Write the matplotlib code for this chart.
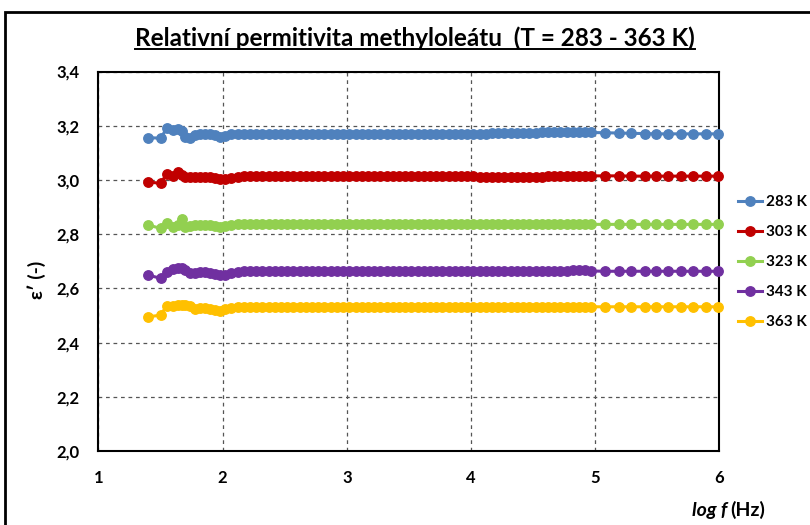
import matplotlib.pyplot as plt
from matplotlib.patches import Rectangle
from matplotlib.lines import Line2D

# log f (Hz)
log_f = [1.40, 1.50, 1.55, 1.60, 1.64, 1.67, 1.70, 1.74, 1.78, 1.82, 1.86, 1.90, 1.94, 1.98,
         2.02, 2.07, 2.12, 2.17, 2.22, 2.27, 2.32, 2.37, 2.42, 2.47,
         2.52, 2.57, 2.62, 2.67, 2.72, 2.77, 2.82, 2.87, 2.92, 2.97,
         3.02, 3.07, 3.12, 3.17, 3.22, 3.27, 3.32, 3.37, 3.42, 3.47,
         3.52, 3.57, 3.62, 3.67, 3.72, 3.77, 3.82, 3.87, 3.92, 3.97,
         4.02, 4.07, 4.12, 4.17, 4.22, 4.27, 4.32, 4.37, 4.42, 4.47,
         4.52, 4.57, 4.62, 4.67, 4.72, 4.77, 4.82, 4.87, 4.92, 4.97,
         5.08, 5.19, 5.29, 5.40, 5.49, 5.59, 5.69, 5.79, 5.89, 5.99]

eps_283 = [3.156, 3.154, 3.190, 3.184, 3.188, 3.180, 3.160, 3.154, 3.164, 3.168, 3.170, 3.170, 3.166, 3.160,
           3.162, 3.168, 3.170, 3.171, 3.171, 3.171, 3.171, 3.171, 3.171, 3.171,
           3.171, 3.171, 3.171, 3.171, 3.171, 3.171, 3.171, 3.171, 3.171, 3.171,
           3.171, 3.171, 3.171, 3.171, 3.171, 3.171, 3.171, 3.171, 3.171, 3.171,
           3.171, 3.171, 3.171, 3.171, 3.171, 3.171, 3.171, 3.171, 3.171, 3.171,
           3.171, 3.171, 3.171, 3.172, 3.172, 3.172, 3.173, 3.173, 3.174, 3.174,
           3.174, 3.175, 3.175, 3.175, 3.175, 3.176, 3.176, 3.176, 3.176, 3.175,
           3.174, 3.173, 3.172, 3.171, 3.170, 3.170, 3.170, 3.170, 3.170, 3.170]

eps_303 = [2.993, 2.987, 3.022, 3.015, 3.030, 3.020, 3.012, 3.012, 3.010, 3.012, 3.010, 3.010, 3.006, 3.002,
           3.002, 3.008, 3.012, 3.013, 3.014, 3.014, 3.014, 3.014, 3.014, 3.014,
           3.014, 3.014, 3.014, 3.014, 3.014, 3.014, 3.014, 3.015, 3.015, 3.015,
           3.015, 3.015, 3.015, 3.015, 3.015, 3.015, 3.015, 3.015, 3.015, 3.015,
           3.015, 3.015, 3.015, 3.015, 3.014, 3.014, 3.014, 3.014, 3.013, 3.013,
           3.013, 3.012, 3.012, 3.012, 3.012, 3.012, 3.012, 3.012, 3.012, 3.012,
           3.012, 3.012, 3.013, 3.013, 3.013, 3.014, 3.014, 3.015, 3.015, 3.015,
           3.015, 3.015, 3.014, 3.014, 3.014, 3.014, 3.014, 3.014, 3.014, 3.014]

eps_323 = [2.834, 2.821, 2.842, 2.827, 2.834, 2.855, 2.825, 2.830, 2.832, 2.834, 2.834, 2.832, 2.830, 2.828,
           2.830, 2.834, 2.836, 2.836, 2.836, 2.836, 2.836, 2.836, 2.836, 2.836,
           2.836, 2.836, 2.836, 2.836, 2.836, 2.836, 2.836, 2.836, 2.836, 2.836,
           2.836, 2.836, 2.836, 2.836, 2.836, 2.836, 2.836, 2.836, 2.836, 2.836,
           2.836, 2.836, 2.836, 2.836, 2.836, 2.836, 2.836, 2.836, 2.836, 2.836,
           2.836, 2.836, 2.836, 2.836, 2.836, 2.836, 2.836, 2.836, 2.836, 2.836,
           2.836, 2.836, 2.836, 2.836, 2.836, 2.836, 2.836, 2.836, 2.836, 2.836,
           2.836, 2.836, 2.836, 2.836, 2.836, 2.836, 2.836, 2.836, 2.836, 2.836]

eps_343 = [2.649, 2.637, 2.660, 2.670, 2.676, 2.674, 2.668, 2.658, 2.658, 2.662, 2.660, 2.656, 2.652, 2.648,
           2.650, 2.658, 2.662, 2.663, 2.663, 2.663, 2.663, 2.663, 2.663, 2.663,
           2.663, 2.663, 2.663, 2.663, 2.663, 2.663, 2.663, 2.663, 2.663, 2.663,
           2.663, 2.663, 2.663, 2.663, 2.663, 2.663, 2.663, 2.663, 2.663, 2.663,
           2.663, 2.663, 2.663, 2.663, 2.663, 2.663, 2.663, 2.663, 2.663, 2.663,
           2.663, 2.663, 2.663, 2.663, 2.663, 2.663, 2.663, 2.663, 2.663, 2.663,
           2.663, 2.663, 2.663, 2.663, 2.664, 2.665, 2.668, 2.669, 2.668, 2.664,
           2.663, 2.663, 2.663, 2.663, 2.663, 2.663, 2.663, 2.663, 2.663, 2.663]

eps_363 = [2.495, 2.501, 2.536, 2.536, 2.538, 2.538, 2.540, 2.534, 2.524, 2.526, 2.526, 2.524, 2.520, 2.518,
           2.522, 2.528, 2.531, 2.532, 2.532, 2.532, 2.532, 2.532, 2.532, 2.532,
           2.532, 2.532, 2.532, 2.532, 2.532, 2.532, 2.532, 2.532, 2.532, 2.532,
           2.532, 2.532, 2.532, 2.532, 2.532, 2.532, 2.532, 2.532, 2.532, 2.532,
           2.532, 2.532, 2.532, 2.532, 2.532, 2.532, 2.532, 2.532, 2.532, 2.532,
           2.532, 2.532, 2.532, 2.532, 2.532, 2.532, 2.532, 2.532, 2.532, 2.532,
           2.532, 2.532, 2.532, 2.532, 2.532, 2.532, 2.532, 2.532, 2.532, 2.532,
           2.532, 2.532, 2.532, 2.532, 2.532, 2.532, 2.532, 2.532, 2.532, 2.532]

series = [eps_283, eps_303, eps_323, eps_343, eps_363]
labels = ['283 K', '303 K', '323 K', '343 K', '363 K']
colors = ['#4F81BD', '#C00000', '#92D050', '#7030A0', '#FFC000']

x_ticks = [1, 2, 3, 4, 5, 6]
y_ticks = [2.0, 2.2, 2.4, 2.6, 2.8, 3.0, 3.2, 3.4]

plt.rcParams['font.family'] = ['Lato', 'DejaVu Sans']

fig = plt.figure(figsize=(8.1, 5.25), dpi=100)
ax = fig.add_axes([0.1216, 0.141, 0.7664, 0.7228])

for y, lab, c in zip(series, labels, colors):
    ax.plot(log_f, y, color=c, lw=2.2, marker='o', ms=6.8, label=lab,
            clip_on=False, zorder=3)

ax.set_xlim(1, 6)
ax.set_ylim(2.0, 3.4)
ax.set_xticks(x_ticks)
ax.set_yticks(y_ticks)
ax.set_xticklabels([str(t) for t in x_ticks])
ax.set_yticklabels([f'{t:.1f}'.replace('.', ',') for t in y_ticks])
ax.tick_params(length=0, labelsize=12, pad=14)
for lbl in ax.get_xticklabels() + ax.get_yticklabels():
    lbl.set_fontweight('bold')

ax.grid(True, color='#555555', ls=(0, (3, 3)), lw=0.9)
for s in ax.spines.values():
    s.set_linewidth(1.5)
    s.set_color('black')

# axis labels
fig.text(0.045, 0.467, "ε′ (-)", rotation=90, ha='center', va='center',
         fontsize=14, fontweight='bold')
fig.text(0.8975, 0.028, 'log f', ha='right', va='center', fontsize=14,
         fontweight='bold', style='italic')
fig.text(0.902, 0.028, '(Hz)', ha='left', va='center', fontsize=14,
         fontweight='bold')

# title with underline
t = fig.text(0.512, 0.928, 'Relativní permitivita methyloleátu  (T = 283 - 363 K)',
             ha='center', va='center', fontsize=17.5, fontweight='bold')
fig.canvas.draw()
bb = t.get_window_extent().transformed(fig.transFigure.inverted())
fig.add_artist(Line2D([bb.x0, bb.x1], [bb.y0 + 0.002, bb.y0 + 0.002],
                      color='black', lw=1.4, transform=fig.transFigure))

# legend
ax.legend(loc='center left', bbox_to_anchor=(0.911, 0.501),
          bbox_transform=fig.transFigure, frameon=False, handlelength=1.6,
          handletextpad=0.25, labelspacing=1.05, borderpad=0, borderaxespad=0,
          prop={'weight': 'bold', 'size': 11})

# outer chart border
fig.add_artist(Rectangle((0.006, -0.1), 1.2, 1.1 - 12 / 525, fill=False,
                         edgecolor='black', lw=2, transform=fig.transFigure))

fig.savefig('out.png', dpi=100)
